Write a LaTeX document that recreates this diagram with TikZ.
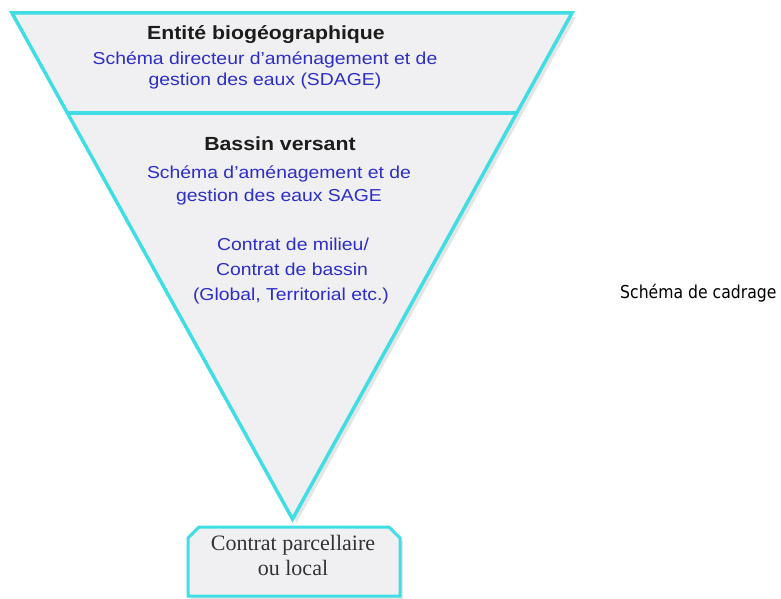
\documentclass[tikz,border=0pt]{standalone}
\usepackage{fontspec}
\usetikzlibrary{calc}
\setmainfont{Liberation Sans}
\newfontfamily\arialx[FakeStretch=1.12]{Liberation Sans}
\newfontfamily\serifx{Liberation Serif}
\newfontfamily\tahx[FakeStretch=0.88]{DejaVu Sans}
\definecolor{cyanline}{RGB}{64,222,228}
\definecolor{panelfill}{RGB}{240,240,242}
\definecolor{textblue}{RGB}{45,45,200}
\definecolor{titleblack}{RGB}{28,28,28}
\begin{document}
\begin{tikzpicture}[x=1pt,y=-1pt,
  titletext/.style={anchor=base, inner sep=0pt, text=titleblack,
    font=\arialx\bfseries\fontsize{19}{22}\selectfont},
  bluetext/.style={anchor=base, inner sep=0pt, text=textblue,
    font=\arialx\fontsize{17.3}{20}\selectfont},
  boxtext/.style={anchor=base, inner sep=0pt, text=titleblack!90,
    font=\serifx\fontsize{22}{25}\selectfont},
  sidetext/.style={anchor=base west, inner sep=0pt, text=black,
    font=\tahx\fontsize{17.8}{20}\selectfont},
  funnelline/.style={draw=cyanline, line width=3.5pt, line join=miter},
  shadowfill/.style={fill=gray!45, opacity=0.45}
]
\useasboundingbox (0,0) rectangle (781,599);
% funnel geometry
\coordinate (tl) at (12,13);
\coordinate (tr) at (572,13);
\coordinate (apex) at (292.5,519);
\coordinate (dl) at (67,113);
\coordinate (dr) at (517,113);
% shadow
\fill[shadowfill] ($(tl)+(4,4)$) -- ($(tr)+(4,4)$) -- ($(apex)+(4,4)$) -- cycle;
% funnel
\filldraw[fill=panelfill, funnelline] (tl) -- (tr) -- (apex) -- cycle;
\draw[funnelline] (dl) -- (dr);
% bottom box
\coordinate (b1) at (188,596);
\coordinate (b2) at (188,538);
\coordinate (b3) at (199,527);
\coordinate (b4) at (389,527);
\coordinate (b5) at (400,538);
\coordinate (b6) at (400,596);
\fill[shadowfill] ($(b2)+(3,3)$) -- ($(b3)+(3,3)$) -- ($(b4)+(3,3)$) -- ($(b5)+(3,3)$) -- ($(b6)+(3,3)$) -- ($(b1)+(3,3)$) -- cycle;
\filldraw[fill=panelfill, funnelline, line width=3pt] (b1) -- (b2) -- (b3) -- (b4) -- (b5) -- (b6) -- cycle;
% texts
\node[titletext] (t1) at (266,40) {Entité biogéographique};
\node[bluetext] (s1) at (265,65) {Schéma directeur d’aménagement et de};
\node[bluetext] (s2) at (265,86) {gestion des eaux (SDAGE)};
\node[titletext] (t2) at (280,150) {Bassin versant};
\node[bluetext] (g1) at (279,178) {Schéma d’aménagement et de};
\node[bluetext] (g2) at (279,201) {gestion des eaux SAGE};
\node[bluetext] (c1) at (293,250) {Contrat de milieu/};
\node[bluetext] (c2) at (292,275) {Contrat de bassin};
\node[bluetext] (c3) at (291,300) {(Global, Territorial etc.)};
\node[boxtext] (p1) at (293,550) {Contrat parcellaire};
\node[boxtext] (p2) at (293,575) {ou local};
\node[sidetext] (side) at (620,298) {Schéma de cadrage};
\end{tikzpicture}
\end{document}
